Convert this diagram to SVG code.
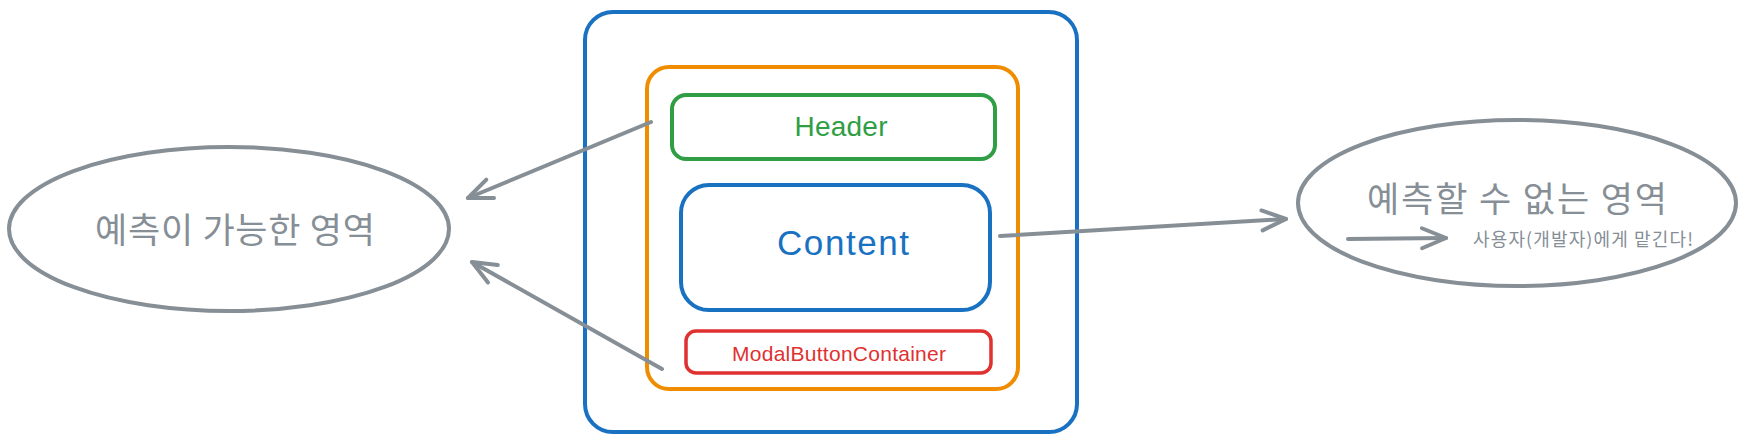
<svg xmlns="http://www.w3.org/2000/svg" width="1747" height="444" viewBox="0 0 1747 444">
  <style>
    .box { fill: #ffffff; stroke-width: 4; stroke-linejoin: round; }
    .blue { stroke: #1971c2; }
    .orange { stroke: #f08c00; }
    .green { stroke: #2f9e44; }
    .red { stroke: #e03131; stroke-width: 3.5; }
    .ell { fill: #ffffff; stroke: #868e96; stroke-width: 4; }
    .conn { fill: none; stroke: #868e96; stroke-width: 4; stroke-linecap: round; stroke-linejoin: round; }
    .lbl { font-family: "Liberation Sans", "DejaVu Sans", sans-serif; text-anchor: middle; }
    .kr { font-family: "Noto Sans CJK KR", "Noto Sans", sans-serif; fill: #868e96; }
  </style>
  <defs>
    <marker id="arrow" viewBox="-30 -15 36 30" refX="0" refY="0" markerWidth="36" markerHeight="30" markerUnits="userSpaceOnUse" orient="auto" overflow="visible">
      <path d="M -24 -10 L 0 0 L -24 10" fill="none" stroke="#868e96" stroke-width="4" stroke-linecap="round" stroke-linejoin="round"/>
    </marker>
  </defs>

  <g id="modal">
    <rect class="box blue" x="585" y="12" width="492" height="420" rx="28"/>
  </g>
  <g id="modal-body">
    <rect class="box orange" x="647" y="67" width="371" height="322" rx="22"/>
  </g>
  <g id="header">
    <rect class="box green" x="672" y="95" width="323" height="64" rx="14"/>
    <text class="lbl" x="841" y="136" font-size="28" fill="#2f9e44" textLength="93" lengthAdjust="spacing">Header</text>
  </g>
  <g id="content">
    <rect class="box blue" x="681" y="185" width="309" height="125" rx="28"/>
    <text class="lbl" x="843" y="255" font-size="35" fill="#1971c2" textLength="132" lengthAdjust="spacing">Content</text>
  </g>
  <g id="modal-button-container">
    <rect class="box red" x="686" y="331" width="305" height="42" rx="10"/>
    <text class="lbl" x="839" y="361" font-size="21" fill="#e03131" textLength="214" lengthAdjust="spacing">ModalButtonContainer</text>
  </g>

  <g id="predictable">
    <ellipse class="ell" cx="229" cy="229" rx="220" ry="82"/>
    <text class="kr" x="235" y="243" font-size="35" text-anchor="middle" textLength="280" lengthAdjust="spacing">예측이 가능한 영역</text>
  </g>
  <g id="unpredictable">
    <ellipse class="ell" cx="1517" cy="203" rx="219" ry="83"/>
    <text class="kr" x="1517" y="212" font-size="35" text-anchor="middle" textLength="300" lengthAdjust="spacing">예측할 수 없는 영역</text>
    <text class="kr" x="1473" y="246" font-size="18" textLength="220" lengthAdjust="spacing">사용자(개발자)에게 맡긴다!</text>
  </g>

  <g id="connectors">
    <path class="conn" d="M 651 122 L 468 198" marker-end="url(#arrow)"/>
    <path class="conn" d="M 662 369 L 472 262" marker-end="url(#arrow)"/>
    <path class="conn" d="M 1000 236 L 1286 219" marker-end="url(#arrow)"/>
    <path class="conn" d="M 1348 239 L 1446 238" marker-end="url(#arrow)"/>
  </g>
</svg>
